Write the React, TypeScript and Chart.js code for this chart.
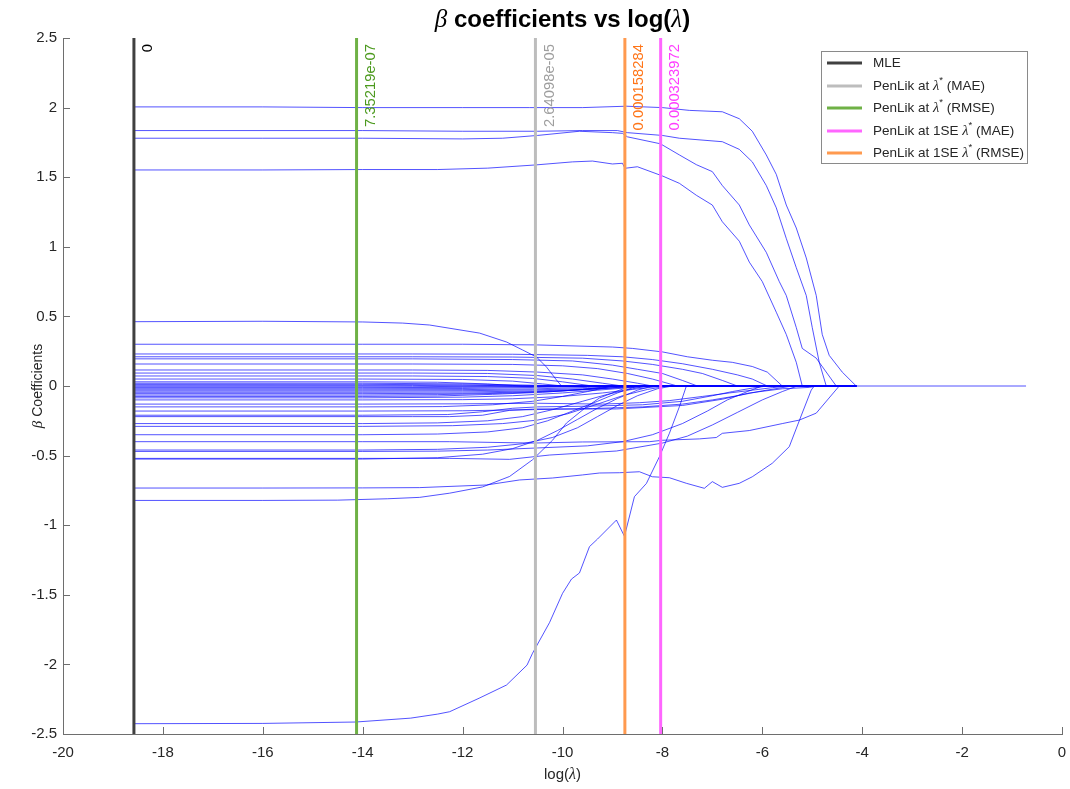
import React, { useEffect, useRef } from "react";
import { Chart, registerables } from "chart.js";

Chart.register(...registerables);

const W = 1070;
const H = 789;
const SANS = "'Liberation Sans', Arial, Helvetica, sans-serif";
const SERIF = "'Liberation Serif', 'Times New Roman', serif";
const AXIS_COLOR = "#6e6e6e";
const TEXT_COLOR = "#262626";
const PATH_COLOR = "rgba(0,0,255,0.68)";

// ---------- axes ----------
const xTickValues = [-20, -18, -16, -14, -12, -10, -8, -6, -4, -2, 0];
const yTickValues = [-2.5, -2, -1.5, -1, -0.5, 0, 0.5, 1, 1.5, 2, 2.5];

// ---------- lambda grid ends ----------
const LOG_LAMBDA_FIRST = -18.58;
const LOG_LAMBDA_LAST = -0.72;

// ---------- reference lines ----------
const refNames = [
  "MLE",
  "PenLik at λ* (MAE)",
  "PenLik at λ* (RMSE)",
  "PenLik at 1SE λ* (MAE)",
  "PenLik at 1SE λ* (RMSE)",
];
const refLambdaText = ["0", "2.64098e-05", "7.35219e-07", "0.000323972", "0.000158284"];
const refLambdaValues = [0, 2.64098e-05, 7.35219e-07, 0.000323972, 0.000158284];
const refLineColors = ["#404040", "#bdbdbd", "#6fb146", "#ff66ff", "#ff9a4f"];
const refTextColors = ["#000000", "#9e9e9e", "#4c9a1e", "#ff3cff", "#ff7518"];

// ---------- coefficient paths: [log(lambda), beta] ----------
const pathsLarge: number[][][] = [
  [[-18.58, 2.005], [-16, 2.005], [-14, 2.0], [-12, 2.0], [-10.66, 2.0], [-9.6, 2.0], [-8.72, 2.01], [-8, 2.0], [-7.46, 1.98], [-6.8, 1.97], [-6.46, 1.92], [-6.2, 1.83], [-5.92, 1.66], [-5.72, 1.52], [-5.52, 1.3], [-5.32, 1.135], [-5.12, 0.92], [-4.92, 0.65], [-4.8, 0.37], [-4.66, 0.22], [-4.4, 0.1], [-4.12, 0]],
  [[-18.58, 1.835], [-14, 1.835], [-12, 1.83], [-10.5, 1.83], [-9.6, 1.835], [-8.9, 1.835], [-8.7, 1.82], [-8.0, 1.8], [-7.66, 1.78], [-6.8, 1.755], [-6.46, 1.7], [-6.2, 1.61], [-5.92, 1.44], [-5.72, 1.28], [-5.52, 1.06], [-5.32, 0.85], [-5.12, 0.65], [-5.0, 0.42], [-4.86, 0.17], [-4.72, 0]],
  [[-18.58, 1.78], [-16, 1.78], [-14, 1.78], [-12, 1.775], [-11.2, 1.78], [-10.5, 1.8], [-9.66, 1.83], [-9.0, 1.82], [-8.8, 1.815], [-8.7, 1.79], [-8.04, 1.74], [-7.66, 1.66], [-7.32, 1.59], [-7.0, 1.54], [-6.8, 1.44], [-6.46, 1.3], [-6.26, 1.157], [-5.92, 0.96], [-5.66, 0.75], [-5.52, 0.65], [-5.32, 0.42], [-5.2, 0.27], [-4.92, 0.2], [-4.52, 0]],
  [[-18.58, 1.552], [-16, 1.552], [-14, 1.555], [-12.5, 1.555], [-11.5, 1.565], [-10.54, 1.588], [-9.8, 1.61], [-9.4, 1.616], [-9.0, 1.595], [-8.8, 1.6], [-8.75, 1.564], [-8.5, 1.575], [-8.0, 1.509], [-7.66, 1.456], [-7.32, 1.37], [-7.0, 1.3], [-6.8, 1.18], [-6.46, 1.04], [-6.26, 0.89], [-6.0, 0.75], [-5.72, 0.53], [-5.52, 0.37], [-5.32, 0.17], [-5.2, 0]],
];

const pathsPositive: number[][][] = [
  [[-18.58, 0.462], [-16, 0.465], [-14, 0.46], [-13.2, 0.452], [-12.66, 0.438], [-11.66, 0.38], [-11.12, 0.316], [-10.8, 0.259], [-10.52, 0.208], [-10.32, 0.136], [-10.12, 0.043], [-10.02, 0]],
  [[-18.58, 0.3], [-14, 0.3], [-12, 0.3], [-10.5, 0.295], [-9, 0.28], [-8.6, 0.27], [-8, 0.245], [-7.5, 0.21], [-7, 0.185], [-6.6, 0.17], [-6.2, 0.14], [-5.9, 0.1], [-5.6, 0]],
  [[-18.58, 0.23], [-13, 0.23], [-11, 0.228], [-9.5, 0.22], [-8.8, 0.21], [-8.2, 0.19], [-7.6, 0.16], [-7, 0.12], [-6.5, 0.08], [-6.2, 0.05], [-5.9, 0]],
  [[-18.58, 0.21], [-13, 0.21], [-11, 0.208], [-9.6, 0.2], [-8.8, 0.18], [-8.2, 0.155], [-7.6, 0.12], [-7.2, 0.09], [-6.8, 0.04], [-6.5, 0]],
  [[-18.58, 0.195], [-13, 0.195], [-11, 0.19], [-9.8, 0.18], [-9, 0.15], [-8.5, 0.12], [-8, 0.09], [-7.6, 0.04], [-7.3, 0]],
  [[-18.58, 0.158], [-13, 0.158], [-11, 0.155], [-10, 0.145], [-9.3, 0.125], [-8.7, 0.09], [-8.2, 0.05], [-7.7, 0]],
  [[-18.58, 0.115], [-13, 0.115], [-11.5, 0.112], [-10.5, 0.1], [-9.6, 0.08], [-9, 0.05], [-8.5, 0.02], [-8.2, 0]],
  [[-18.58, 0.093], [-13, 0.093], [-11.5, 0.09], [-10.5, 0.075], [-9.8, 0.05], [-9.2, 0.02], [-8.8, 0]],
  [[-18.58, 0.072], [-13, 0.072], [-11.5, 0.068], [-10.6, 0.055], [-10, 0.03], [-9.4, 0]],
  [[-18.58, 0.05], [-14, 0.05], [-12, 0.047], [-11, 0.035], [-10.4, 0.015], [-10, 0]],
  [[-18.58, 0.03], [-14, 0.03], [-12.5, 0.027], [-11.5, 0.015], [-10.8, 0]],
];

const pathsNearZero: number[][][] = [
  [[-18.58, 0.02], [-14, 0.02], [-12, 0.015], [-10.5, 0.005], [-9.8, 0]],
  [[-18.58, 0.012], [-14, 0.012], [-12, 0.008], [-11, 0]],
  [[-18.58, 0.005], [-13, 0.004], [-11.5, 0]],
  [[-18.58, -0.005], [-13, -0.005], [-11, 0]],
  [[-18.58, -0.012], [-14, -0.012], [-12, -0.01], [-10.5, -0.004], [-9.5, 0]],
  [[-18.58, -0.02], [-14, -0.02], [-12, -0.018], [-10.5, -0.01], [-9.2, 0]],
  [[-18.58, -0.028], [-14, -0.028], [-12, -0.026], [-10.5, -0.02], [-9.5, -0.01], [-8.8, 0]],
  [[-18.58, -0.036], [-14, -0.036], [-12, -0.034], [-10.6, -0.028], [-9.6, -0.02], [-8.9, -0.01], [-8.4, 0]],
  [[-18.58, -0.045], [-14, -0.045], [-12, -0.043], [-10.6, -0.036], [-9.8, -0.028], [-9, -0.015], [-8.2, 0]],
  [[-18.58, -0.055], [-14, -0.055], [-12, -0.052], [-11, -0.045], [-10, -0.035], [-9.2, -0.02], [-8.6, 0]],
  [[-18.58, -0.065], [-14, -0.065], [-12.5, -0.062], [-11.2, -0.052], [-10.2, -0.04], [-9.4, -0.02], [-8.9, 0]],
  [[-18.58, -0.075], [-14, -0.075], [-12.5, -0.072], [-11.4, -0.06], [-10.4, -0.045], [-9.6, -0.025], [-9.0, 0]],
  [[-18.58, -0.085], [-14, -0.085], [-12, -0.08], [-11, -0.07], [-10, -0.05], [-9.3, -0.03], [-8.6, -0.01], [-8.1, 0]],
];

const pathsNegative: number[][][] = [
  [[-18.58, -0.1], [-14, -0.1], [-12, -0.098], [-11, -0.092], [-10, -0.075], [-9.2, -0.05], [-8.6, -0.025], [-8.0, 0]],
  [[-18.58, -0.13], [-14, -0.13], [-12, -0.128], [-10.5, -0.124], [-9.2, -0.13], [-8.46, -0.12], [-7.86, -0.105], [-7.2, -0.075], [-6.66, -0.05], [-6.2, -0.03], [-5.8, -0.012], [-5.5, 0]],
  [[-18.58, -0.15], [-14, -0.15], [-12.4, -0.148], [-11.4, -0.135], [-10.6, -0.11], [-10, -0.075], [-9.5, -0.04], [-9.0, 0]],
  [[-18.58, -0.18], [-14, -0.18], [-12, -0.178], [-10.6, -0.17], [-9.4, -0.162], [-8.4, -0.15], [-7.6, -0.13], [-7.0, -0.1], [-6.5, -0.07], [-6.0, -0.035], [-5.4, 0]],
  [[-18.58, -0.21], [-14, -0.21], [-12.3, -0.205], [-11.6, -0.185], [-11.0, -0.16], [-10.5, -0.15], [-9.5, -0.145], [-8.4, -0.135], [-7.6, -0.11], [-7.0, -0.07], [-6.6, -0.04], [-6.2, -0.015], [-5.9, 0]],
  [[-18.58, -0.22], [-13, -0.22], [-12.26, -0.22], [-11.6, -0.21], [-11.06, -0.175], [-10.52, -0.165], [-8.92, -0.165], [-7.6, -0.14], [-6.8, -0.095], [-6.26, -0.05], [-5.6, -0.02], [-5.06, -0.01], [-4.9, 0]],
  [[-18.58, -0.27], [-14, -0.27], [-12.5, -0.265], [-11.5, -0.25], [-10.8, -0.22], [-10.2, -0.17], [-9.6, -0.11], [-9.1, -0.06], [-8.6, -0.02], [-8.3, 0]],
  [[-18.58, -0.29], [-14, -0.29], [-12.2, -0.285], [-11.2, -0.27], [-10.5, -0.245], [-9.9, -0.2], [-9.3, -0.13], [-8.8, -0.07], [-8.3, -0.025], [-7.9, 0]],
  [[-18.58, -0.35], [-14, -0.35], [-12.5, -0.345], [-11.5, -0.33], [-10.8, -0.3], [-10.3, -0.25], [-9.8, -0.18], [-9.3, -0.11], [-8.9, -0.05], [-8.5, 0]],
  [[-18.58, -0.4], [-14, -0.4], [-12.26, -0.4], [-10.6, -0.41], [-9.6, -0.402], [-8.26, -0.4], [-8.0, -0.39], [-7.26, -0.38], [-6.92, -0.37], [-6.8, -0.34], [-6.26, -0.32], [-5.6, -0.27], [-5.26, -0.245], [-4.92, -0.195], [-4.46, 0]],
  [[-18.58, -0.46], [-14, -0.46], [-12.5, -0.455], [-11.5, -0.44], [-10.8, -0.415], [-10.2, -0.37], [-9.7, -0.3], [-9.3, -0.22], [-8.9, -0.14], [-8.5, -0.07], [-8.1, -0.02], [-7.8, 0]],
  [[-18.58, -0.47], [-14, -0.47], [-12.5, -0.468], [-11.5, -0.46], [-10.5, -0.445], [-9.5, -0.43], [-8.8, -0.4], [-8.2, -0.35], [-7.6, -0.27], [-7.1, -0.18], [-6.7, -0.1], [-6.3, -0.04], [-6.0, 0]],
  [[-18.58, -0.52], [-14, -0.52], [-12.26, -0.52], [-11.06, -0.527], [-10.26, -0.496], [-8.92, -0.467], [-8.0, -0.41], [-7.5, -0.36], [-7.0, -0.28], [-6.5, -0.19], [-6.0, -0.1], [-5.6, -0.04], [-5.3, 0]],
  [[-18.58, -0.525], [-14, -0.525], [-12.5, -0.515], [-11.6, -0.49], [-11, -0.45], [-10.5, -0.39], [-10.1, -0.32], [-9.7, -0.24], [-9.3, -0.16], [-8.9, -0.09], [-8.5, -0.03], [-8.2, 0]],
  [[-18.58, -0.733], [-16, -0.733], [-14, -0.732], [-12.86, -0.73], [-11.52, -0.711], [-10.86, -0.675], [-10.2, -0.661], [-9.6, -0.639], [-9.26, -0.625], [-8.86, -0.623], [-8.46, -0.616], [-8.2, -0.652], [-7.86, -0.659], [-7.52, -0.699], [-7.16, -0.735], [-7.0, -0.687], [-6.8, -0.728], [-6.46, -0.699], [-6.2, -0.652], [-5.8, -0.555], [-5.46, -0.436], [-5.2, -0.194], [-5.02, -0.029], [-4.96, 0]],
  [[-18.58, -0.822], [-16, -0.822], [-14.5, -0.82], [-13.5, -0.81], [-12.86, -0.8], [-12.26, -0.77], [-11.6, -0.725], [-11.06, -0.65], [-10.6, -0.53], [-10.2, -0.39], [-9.92, -0.266], [-9.52, -0.15], [-9.26, -0.086], [-8.86, -0.03], [-8.6, 0]],
  [[-18.58, -2.426], [-16, -2.424], [-14.14, -2.414], [-13.04, -2.386], [-12.5, -2.357], [-12.26, -2.34], [-11.67, -2.243], [-11.12, -2.148], [-10.71, -2.005], [-10.6, -1.92], [-10.26, -1.7], [-10.0, -1.49], [-9.82, -1.387], [-9.66, -1.343], [-9.46, -1.154], [-9.3, -1.1], [-8.92, -0.963], [-8.76, -1.08], [-8.56, -0.795], [-8.32, -0.7], [-8.06, -0.508], [-7.86, -0.34], [-7.66, -0.149], [-7.52, 0]],
];

// ---------- helpers ----------
type Part = { text: string; font: string; dy?: number };

function richWidth(ctx: CanvasRenderingContext2D, parts: Part[]) {
  let w = 0;
  for (const p of parts) {
    ctx.font = p.font;
    w += ctx.measureText(p.text).width;
  }
  return w;
}

function drawRich(ctx: CanvasRenderingContext2D, parts: Part[], x: number, y: number) {
  let cx = x;
  ctx.textAlign = "left";
  for (const p of parts) {
    ctx.font = p.font;
    ctx.fillText(p.text, cx, y + (p.dy || 0));
    cx += ctx.measureText(p.text).width;
  }
}

function legendParts(name: string, size: number): Part[] {
  const idx = name.indexOf("λ*");
  if (idx < 0) return [{ text: name, font: `${size}px ${SANS}` }];
  return [
    { text: name.slice(0, idx), font: `${size}px ${SANS}` },
    { text: "λ", font: `italic ${size + 1}px ${SERIF}` },
    { text: "*", font: `${size - 4}px ${SANS}`, dy: -6 },
    { text: name.slice(idx + 2), font: `${size}px ${SANS}` },
  ];
}

const refX = refLambdaValues.map((v) => (v > 0 ? Math.log(v) : LOG_LAMBDA_FIRST));

const decorPlugin = {
  id: "decor",
  afterDatasetsDraw(chart: any) {
    const { ctx, chartArea: a, scales } = chart;
    const xs = scales.x;
    const ys = scales.y;
    ctx.save();

    // inward ticks
    ctx.strokeStyle = AXIS_COLOR;
    ctx.lineWidth = 1;
    ctx.beginPath();
    xTickValues.forEach((v) => {
      const px = Math.round(xs.getPixelForValue(v)) + 0.5;
      ctx.moveTo(px, a.bottom);
      ctx.lineTo(px, a.bottom - 7);
    });
    yTickValues.forEach((v) => {
      const py = Math.round(ys.getPixelForValue(v)) + 0.5;
      ctx.moveTo(a.left, py);
      ctx.lineTo(a.left + 7, py);
    });
    ctx.stroke();

    // labels on reference lines
    refLambdaText.forEach((t, i) => {
      const px = xs.getPixelForValue(refX[i]);
      ctx.save();
      ctx.translate(px + 14, a.top + 6);
      ctx.rotate(-Math.PI / 2);
      ctx.textAlign = "right";
      ctx.textBaseline = "middle";
      ctx.fillStyle = refTextColors[i];
      ctx.font = `14.8px ${SANS}`;
      ctx.fillText(t, 0, 0);
      ctx.restore();
    });

    // legend box
    const lx = 821, ly = 51, lw = 206, lh = 112;
    ctx.fillStyle = "#ffffff";
    ctx.fillRect(lx, ly, lw, lh);
    ctx.strokeStyle = "#8a8a8a";
    ctx.lineWidth = 1;
    ctx.strokeRect(lx + 0.5, ly + 0.5, lw, lh);
    const rows = [63, 86, 108, 131, 153];
    refNames.forEach((name, k) => {
      const y = rows[k];
      ctx.strokeStyle = refLineColors[k];
      ctx.lineWidth = 3;
      ctx.beginPath();
      ctx.moveTo(827, y);
      ctx.lineTo(862, y);
      ctx.stroke();
      ctx.fillStyle = TEXT_COLOR;
      ctx.textBaseline = "middle";
      drawRich(ctx, legendParts(name, 13.5), 873, y);
    });

    // title
    const cx = (a.left + a.right) / 2;
    const titleParts: Part[] = [
      { text: "β", font: `italic 25px ${SERIF}` },
      { text: " coefficients vs log(", font: `bold 24px ${SANS}` },
      { text: "λ", font: `italic 25px ${SERIF}` },
      { text: ")", font: `bold 24px ${SANS}` },
    ];
    ctx.fillStyle = "#000000";
    ctx.textBaseline = "alphabetic";
    drawRich(ctx, titleParts, cx - richWidth(ctx, titleParts) / 2, 27);

    // x label
    const xlParts: Part[] = [
      { text: "log(", font: `15px ${SANS}` },
      { text: "λ", font: `italic 16px ${SERIF}` },
      { text: ")", font: `15px ${SANS}` },
    ];
    ctx.fillStyle = TEXT_COLOR;
    drawRich(ctx, xlParts, cx - richWidth(ctx, xlParts) / 2, 779);

    // y label
    const ylParts: Part[] = [
      { text: "β", font: `italic 15px ${SERIF}` },
      { text: " Coefficients", font: `14px ${SANS}` },
    ];
    ctx.save();
    ctx.translate(42, (a.top + a.bottom) / 2);
    ctx.rotate(-Math.PI / 2);
    drawRich(ctx, ylParts, -richWidth(ctx, ylParts) / 2, 0);
    ctx.restore();

    ctx.restore();
  },
};

export default function App() {
  const canvasRef = useRef<HTMLCanvasElement | null>(null);

  useEffect(() => {
    document.body.style.margin = "0";
    const canvas = canvasRef.current;
    if (!canvas) return;

    const allPaths = [...pathsLarge, ...pathsPositive, ...pathsNearZero, ...pathsNegative];
    // every coefficient stays at zero once it enters; the shared zero tail is drawn once
    const tailStart = Math.max(...allPaths.map((p) => p[p.length - 1][0]));
    const pathSets = allPaths.map((p) => ({
      type: "line" as const,
      data: [...p, [tailStart, 0]].map(([x, y]) => ({ x, y })),
      borderColor: PATH_COLOR,
      borderWidth: 1,
      pointRadius: 0,
      tension: 0,
      fill: false,
      order: 1,
    }));
    const tailSet = {
      type: "line" as const,
      data: [
        { x: tailStart, y: 0 },
        { x: LOG_LAMBDA_LAST, y: 0 },
      ],
      borderColor: PATH_COLOR,
      borderWidth: 1,
      pointRadius: 0,
      fill: false,
      order: 1,
    };
    const refSets = refX.map((x, i) => ({
      type: "line" as const,
      data: [
        { x, y: yTickValues[0] },
        { x, y: yTickValues[yTickValues.length - 1] },
      ],
      borderColor: refLineColors[i],
      borderWidth: 3,
      pointRadius: 0,
      fill: false,
      order: -1,
    }));

    const chart = new Chart(canvas, {
      type: "line",
      data: { datasets: [...refSets, ...pathSets, tailSet] as any },
      options: {
        animation: false,
        responsive: false,
        devicePixelRatio: 1,
        layout: { padding: { top: 38, right: 8, left: 0, bottom: 0 } },
        plugins: {
          legend: { display: false },
          title: { display: false },
          tooltip: { enabled: false },
        },
        scales: {
          x: {
            type: "linear",
            min: xTickValues[0],
            max: xTickValues[xTickValues.length - 1],
            afterBuildTicks: (s: any) => {
              s.ticks = xTickValues.map((v) => ({ value: v }));
            },
            afterFit: (s: any) => {
              s.height = 55;
              s.paddingLeft = 0;
              s.paddingRight = 0;
            },
            ticks: {
              color: TEXT_COLOR,
              font: { family: SANS, size: 15 },
              padding: 10,
              maxRotation: 0,
              autoSkip: false,
              callback: (v: any) => String(v),
            },
            grid: { display: false, drawTicks: false },
            border: { display: true, color: AXIS_COLOR, width: 1 },
          },
          y: {
            type: "linear",
            min: yTickValues[0],
            max: yTickValues[yTickValues.length - 1],
            afterBuildTicks: (s: any) => {
              s.ticks = yTickValues.map((v) => ({ value: v }));
            },
            afterFit: (s: any) => {
              s.width = 63;
              s.paddingTop = 0;
              s.paddingBottom = 0;
            },
            ticks: {
              color: TEXT_COLOR,
              font: { family: SANS, size: 15 },
              padding: 6,
              autoSkip: false,
              callback: (v: any) => String(v),
            },
            grid: { display: false, drawTicks: false },
            border: { display: true, color: AXIS_COLOR, width: 1 },
          },
        },
      },
      plugins: [decorPlugin],
    });

    return () => chart.destroy();
  }, []);

  return (
    <div style={{ width: W, height: H, background: "#ffffff" }}>
      <canvas ref={canvasRef} width={W} height={H} style={{ display: "block" }} />
    </div>
  );
}
